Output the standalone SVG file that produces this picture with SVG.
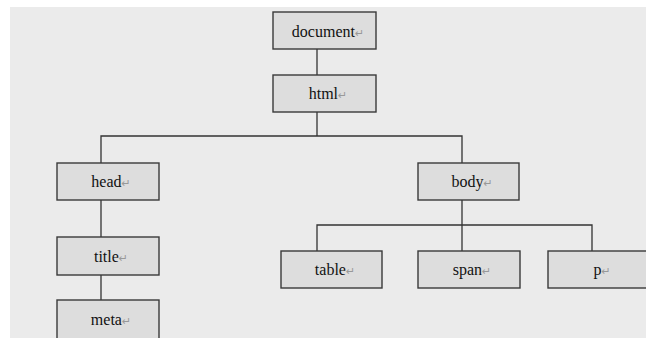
<svg xmlns="http://www.w3.org/2000/svg" width="646" height="338" viewBox="0 0 646 338">
<style>
.box{fill:#dddddd;stroke:#3a3a3a;stroke-width:1.4}
.lbl{font-family:"Liberation Serif","Times New Roman",serif;font-size:16px;fill:#111;text-anchor:middle}
.ret{font-family:"DejaVu Sans",sans-serif;font-size:11px;fill:#999}
.conn{fill:none;stroke:#333;stroke-width:1.3}
</style>
<rect x="0" y="0" width="646" height="338" fill="#ffffff"/>
<rect x="10" y="7" width="636" height="331" fill="#ebebeb"/>
<g id="connectors" class="conn">
<path d="M317 49V75"/>
<path d="M317 112V136"/>
<path d="M101 163V136H462V163"/>
<path d="M462 200V225"/>
<path d="M317 251V225H592V251"/>
<path d="M462 225V251"/>
<path d="M101 200V237"/>
<path d="M101 275V300"/>
</g>
<g id="document"><rect class="box" x="273" y="12" width="103" height="37"/><text class="lbl" x="328" y="37">document<tspan class="ret">↵</tspan></text></g>
<g id="html"><rect class="box" x="273" y="75" width="103" height="37"/><text class="lbl" x="328" y="99">html<tspan class="ret">↵</tspan></text></g>
<g id="head"><rect class="box" x="57" y="163" width="102" height="37"/><text class="lbl" x="111" y="187">head<tspan class="ret">↵</tspan></text></g>
<g id="body"><rect class="box" x="418" y="163" width="101" height="37"/><text class="lbl" x="472" y="187">body<tspan class="ret">↵</tspan></text></g>
<g id="title"><rect class="box" x="57" y="237" width="102" height="38"/><text class="lbl" x="111" y="262">title<tspan class="ret">↵</tspan></text></g>
<g id="meta"><rect class="box" x="57" y="300" width="102" height="42"/><text class="lbl" x="111" y="325">meta<tspan class="ret">↵</tspan></text></g>
<g id="table"><rect class="box" x="281" y="251" width="101" height="37"/><text class="lbl" x="335" y="275">table<tspan class="ret">↵</tspan></text></g>
<g id="span"><rect class="box" x="418" y="251" width="102" height="37"/><text class="lbl" x="472" y="275">span<tspan class="ret">↵</tspan></text></g>
<g id="p"><rect class="box" x="548" y="251" width="104" height="37"/><text class="lbl" x="602" y="275">p<tspan class="ret">↵</tspan></text></g>
</svg>
